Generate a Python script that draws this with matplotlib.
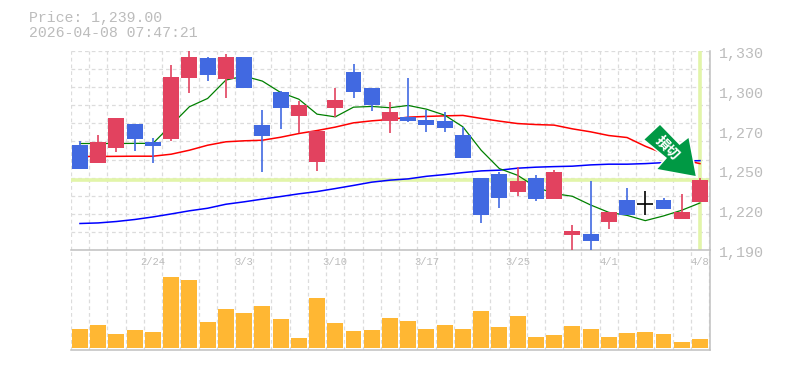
import matplotlib
matplotlib.use("Agg")
import matplotlib.pyplot as plt
from matplotlib.patches import Polygon
from matplotlib.transforms import ScaledTranslation

# Data
opens = [1263.7,1251.1,1261.6,1278.5,1265.8,1267.9,1310.8,1324.8,1310.1,1325.6,1277.8,1301.0,1284.1,1251.8,1289.7,1315.0,1303.8,1280.6,
         1283.4,1281.3,1280.6,1270.7,1240.5,1243.3,1230.7,1240.5,1225.8,1200.5,1201.2,1209.6,1225.1,1222.3,1225.1,1211.7,1223.7]
closes = [1246.9,1265.8,1282.7,1267.9,1263.0,1311.5,1325.6,1312.9,1325.6,1303.8,1270.0,1289.7,1291.8,1273.6,1295.3,1301.0,1291.8,1286.9,
          1280.6,1277.8,1275.7,1254.6,1214.5,1226.5,1238.4,1225.8,1244.8,1203.3,1196.3,1216.6,1214.5,1222.3,1218.8,1216.6,1239.0]
highs = [1266.5,1270.7,1282.7,1278.5,1268.6,1319.9,1330.5,1325.6,1327.7,1325.6,1288.3,1301.7,1294.6,1273.6,1303.8,1320.6,1303.8,1293.9,
         1310.8,1288.3,1286.9,1276.4,1240.5,1244.8,1248.3,1242.6,1246.2,1207.5,1238.4,1216.6,1233.5,1231.4,1226.5,1229.3,1240.5]
lows = [1246.9,1251.1,1258.8,1259.5,1251.1,1266.5,1300.3,1308.7,1296.7,1303.8,1244.8,1275.0,1272.6,1245.5,1283.4,1296.7,1287.6,1272.2,
        1279.9,1272.9,1272.9,1254.6,1208.9,1219.5,1227.9,1224.4,1225.8,1189.2,1189.2,1204.7,1214.5,1214.5,1218.8,1211.7,1223.7]
ma_short = [1264.9,1264.9,1264.9,1265.0,1265.0,1277.8,1290.7,1296.5,1309.4,1312.2,1308.7,1300.7,1296.0,1285.5,1283.6,1290.4,1290.9,1290.0,
            1291.6,1289.0,1284.8,1276.6,1260.2,1247.3,1242.6,1234.4,1229.8,1227.9,1221.8,1216.6,1214.5,1210.8,1214.1,1218.1,1223.2]
ma_mid = [1255.8,1255.8,1255.9,1256.0,1256.0,1257.4,1260.2,1263.7,1266.1,1266.8,1267.2,1269.3,1271.9,1274.0,1276.4,1279.4,1280.8,1281.8,
          1283.4,1283.9,1284.3,1284.6,1282.5,1280.6,1278.9,1278.2,1277.8,1275.2,1273.1,1270.5,1269.1,1263.0,1257.9,1253.7,1250.8]
ma_long = [1208.8,1209.2,1210.2,1211.6,1213.4,1215.5,1217.7,1219.5,1222.3,1224.0,1225.9,1227.7,1229.6,1231.2,1233.3,1235.5,1237.8,1239.2,
           1240.1,1241.9,1243.1,1244.5,1245.7,1246.2,1247.6,1248.3,1248.7,1249.0,1249.9,1250.4,1250.4,1250.8,1251.5,1252.5,1252.9]
volumes = [57,69,42,54,48,213,204,78,117,105,126,87,30,150,75,51,54,90,
           81,57,69,57,111,63,96,33,39,66,57,33,45,48,42,18,27]
date_positions = [4,9,14,19,24,29,34]
date_labels = ["2/24","3/3","3/10","3/17","3/25","4/1","4/8"]
price_ticks = [1330,1302,1274,1246,1218,1190]
price_labels = ["1,330","1,300","1,270","1,250","1,220","1,190"]
last_price = 1239.0
header = ["Price: 1,239.00","2026-04-08 07:47:21"]

W,H = 785,370
BLUE,RED,DOJI = "#4169E1","#E2425F","#000000"
GRID = "#dcdcdc"; AXC = "#c0c0c0"; TXT = "#bcbcbc"; LIME = "#E2F5A9"; ORANGE = "#FFB733"
MONO = "Liberation Mono"

fig = plt.figure(figsize=(W/100,H/100),dpi=100,facecolor="white")
def axes_px(l,t,r,b):
    return fig.add_axes([l/W,1-b/H,(r-l)/W,(b-t)/H])
L,R = 70.5,710.0
ax = axes_px(L,50.7,R,250.3)
av = axes_px(L,250.3,R,350.0)
xlim = (-0.52,34.55)
n = len(opens)
xs = list(range(n))
grid_x = [i-0.5 for i in range(n+1)]
grid_y = [1190+i*140/11 for i in range(12)]
grid_kw = dict(color=GRID,lw=0.9,ls=(0,(3,2.4)),zorder=0)

for a in (ax,av):
    a.set_xlim(*xlim)
    a.set_facecolor("white")
    for s in a.spines.values():
        s.set_visible(False)
    for g in grid_x:
        a.axvline(g,**grid_kw)
for name in ("bottom","right"):
    for a in (ax,av):
        a.spines[name].set_visible(True)
        a.spines[name].set_color(AXC)
        a.spines[name].set_linewidth(1.1)

ax.set_ylim(1190,1330)
for g in grid_y:
    ax.axhline(g,**grid_kw)
ax.axhline(last_price,color=LIME,lw=2.6,zorder=1)
ax.axvline(xs[-1],ymin=0,ymax=1,color=LIME,lw=2.6,zorder=1)

ax.plot(xs,ma_long,color="#0000FF",lw=1.1,zorder=2,solid_joinstyle="miter")
ax.plot(xs,ma_mid,color="#FF0000",lw=1.1,zorder=2,solid_joinstyle="miter")
ax.plot(xs,ma_short,color="#008000",lw=0.9,zorder=2,solid_joinstyle="miter")

for i in xs:
    o,c = opens[i],closes[i]
    col = DOJI if o==c else (RED if c>o else BLUE)
    ax.vlines(i,lows[i],highs[i],color=col,lw=1.2,zorder=3)
    if o==c:
        ax.hlines(o,i-0.44,i+0.44,color=col,lw=1.2,zorder=3)
    else:
        ax.bar(i,abs(c-o),bottom=min(o,c),width=0.875,color=col,lw=0,zorder=3)

ax.set_xticks(date_positions,date_labels,fontfamily=MONO,fontsize=7.6,color=TXT)
ax.tick_params(axis="x",length=0,pad=5)
ax.yaxis.tick_right()
ax.set_yticks(price_ticks,price_labels,fontfamily=MONO,fontsize=10.8,color=TXT)
ax.tick_params(axis="y",length=0,pad=6.5)
for lab in ax.get_yticklabels():
    lab.set_transform(lab.get_transform()+ScaledTranslation(0,-1.5/100,fig.dpi_scale_trans))
ax.set_zorder(2)
ax.patch.set_alpha(0)

av.set_ylim(-6,293)
av.bar(xs,volumes,width=0.875,color=ORANGE,lw=0,zorder=3)
av.set_xticks([]); av.set_yticks([])

# Arrow annotation, drawn in figure pixels
arrow_px = [(644.5,139.5),(660,125),(679.5,145),(688.5,138),(695.7,176),(657.5,169),(667,158)]
ax.add_artist(Polygon([(x/W,1-y/H) for x,y in arrow_px],closed=True,transform=fig.transFigure,
                      facecolor="#009944",edgecolor="white",lw=2.2,zorder=5,joinstyle="miter",clip_on=False))
ax.add_artist(Polygon([(x/W,1-y/H) for x,y in arrow_px],closed=True,transform=fig.transFigure,
                      facecolor="#009944",edgecolor="none",zorder=6,clip_on=False))
fig.text(667/W,1-148/H,"損切",rotation=-45,rotation_mode="anchor",ha="center",va="center",
         color="white",fontsize=10,fontweight="bold",family="Noto Sans CJK JP",zorder=10)

fig.text(29/W,1-18/H,header[0],family=MONO,fontsize=10.7,color=TXT,va="center",ha="left")
fig.text(29/W,1-33/H,header[1],family=MONO,fontsize=10.7,color=TXT,va="center",ha="left")

fig.savefig("out.png",dpi=100)
